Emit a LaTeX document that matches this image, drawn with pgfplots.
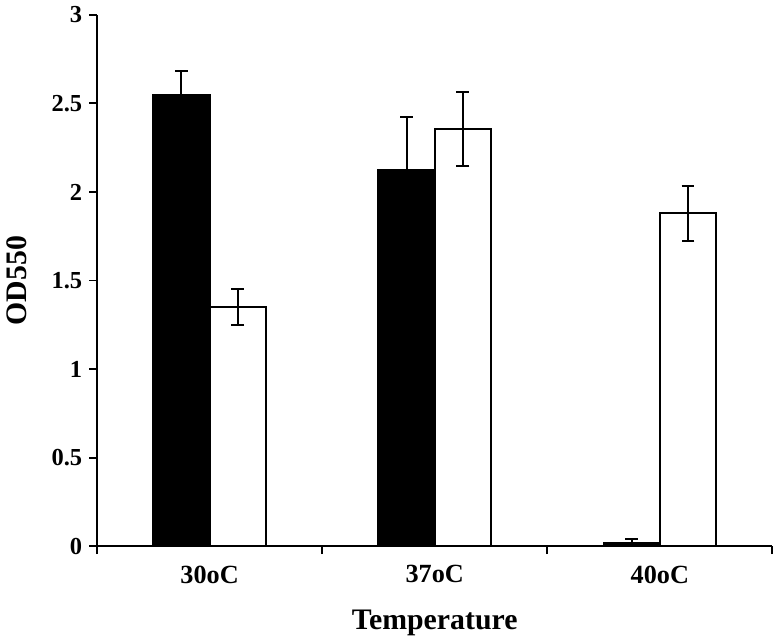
\documentclass[border=0pt]{standalone}
\usepackage{pgfplots}
\pgfplotsset{compat=1.18}
\usepackage{fontspec}
\setmainfont{Liberation Serif}
\begin{document}
\begin{tikzpicture}
\begin{axis}[
  scale only axis,
  width=340pt, height=267.5pt,
  xmin=-0.5, xmax=2.5,
  ymin=0, ymax=3,
  ytick={0,0.5,1,1.5,2,2.5,3},
  yticklabel style={font=\bfseries\fontsize{12.3}{14}\selectfont},
  /pgf/number format/assume math mode=true,
  xtick={-0.5,0.5,1.5,2.5},
  xticklabels={},
  extra x ticks={0,1,2},
  extra x tick labels={30oC,37oC,40oC},
  extra x tick style={major tick length=0pt, tick label style={font=\bfseries\fontsize{13.2}{15}\selectfont, yshift=-6.25pt}},
  axis x line*=bottom, axis y line*=left,
  tick align=outside,
  major tick length=4pt,
  axis line style={line width=1pt, -},
  every tick/.style={line width=1pt, black},
  clip=false,
  ybar, bar width=0.25,
  ylabel={\bfseries OD550},
  xlabel={\bfseries Temperature},
  label style={font=\bfseries\fontsize{15}{17}\selectfont},
  ylabel style={at={(rel axis cs:-0.119,0.5)}, anchor=center},
  xlabel style={at={(rel axis cs:0.5,-0.144)}, anchor=center},
  error bars/error bar style={line width=1pt, black},
  error bars/error mark options={rotate=90, mark size=3.25pt, line width=1pt, black},
]
\addplot[fill=black, draw=black, line width=1pt, bar shift=-0.125, error bars/.cd, y dir=both, y explicit]
  coordinates {(0,2.55) +- (0,0.135) (1,2.125) +- (0,0.30) (2,0.02) +- (0,0.02)};
\addplot[fill=white, draw=black, line width=1pt, bar shift=0.125, error bars/.cd, y dir=both, y explicit]
  coordinates {(0,1.35) +- (0,0.10) (1,2.355) +- (0,0.21) (2,1.88) +- (0,0.155)};
\path[draw=none] (rel axis cs:-0.1412,1.0243) rectangle (rel axis cs:1.0044,-0.1794);
\end{axis}
\end{tikzpicture}
\end{document}
